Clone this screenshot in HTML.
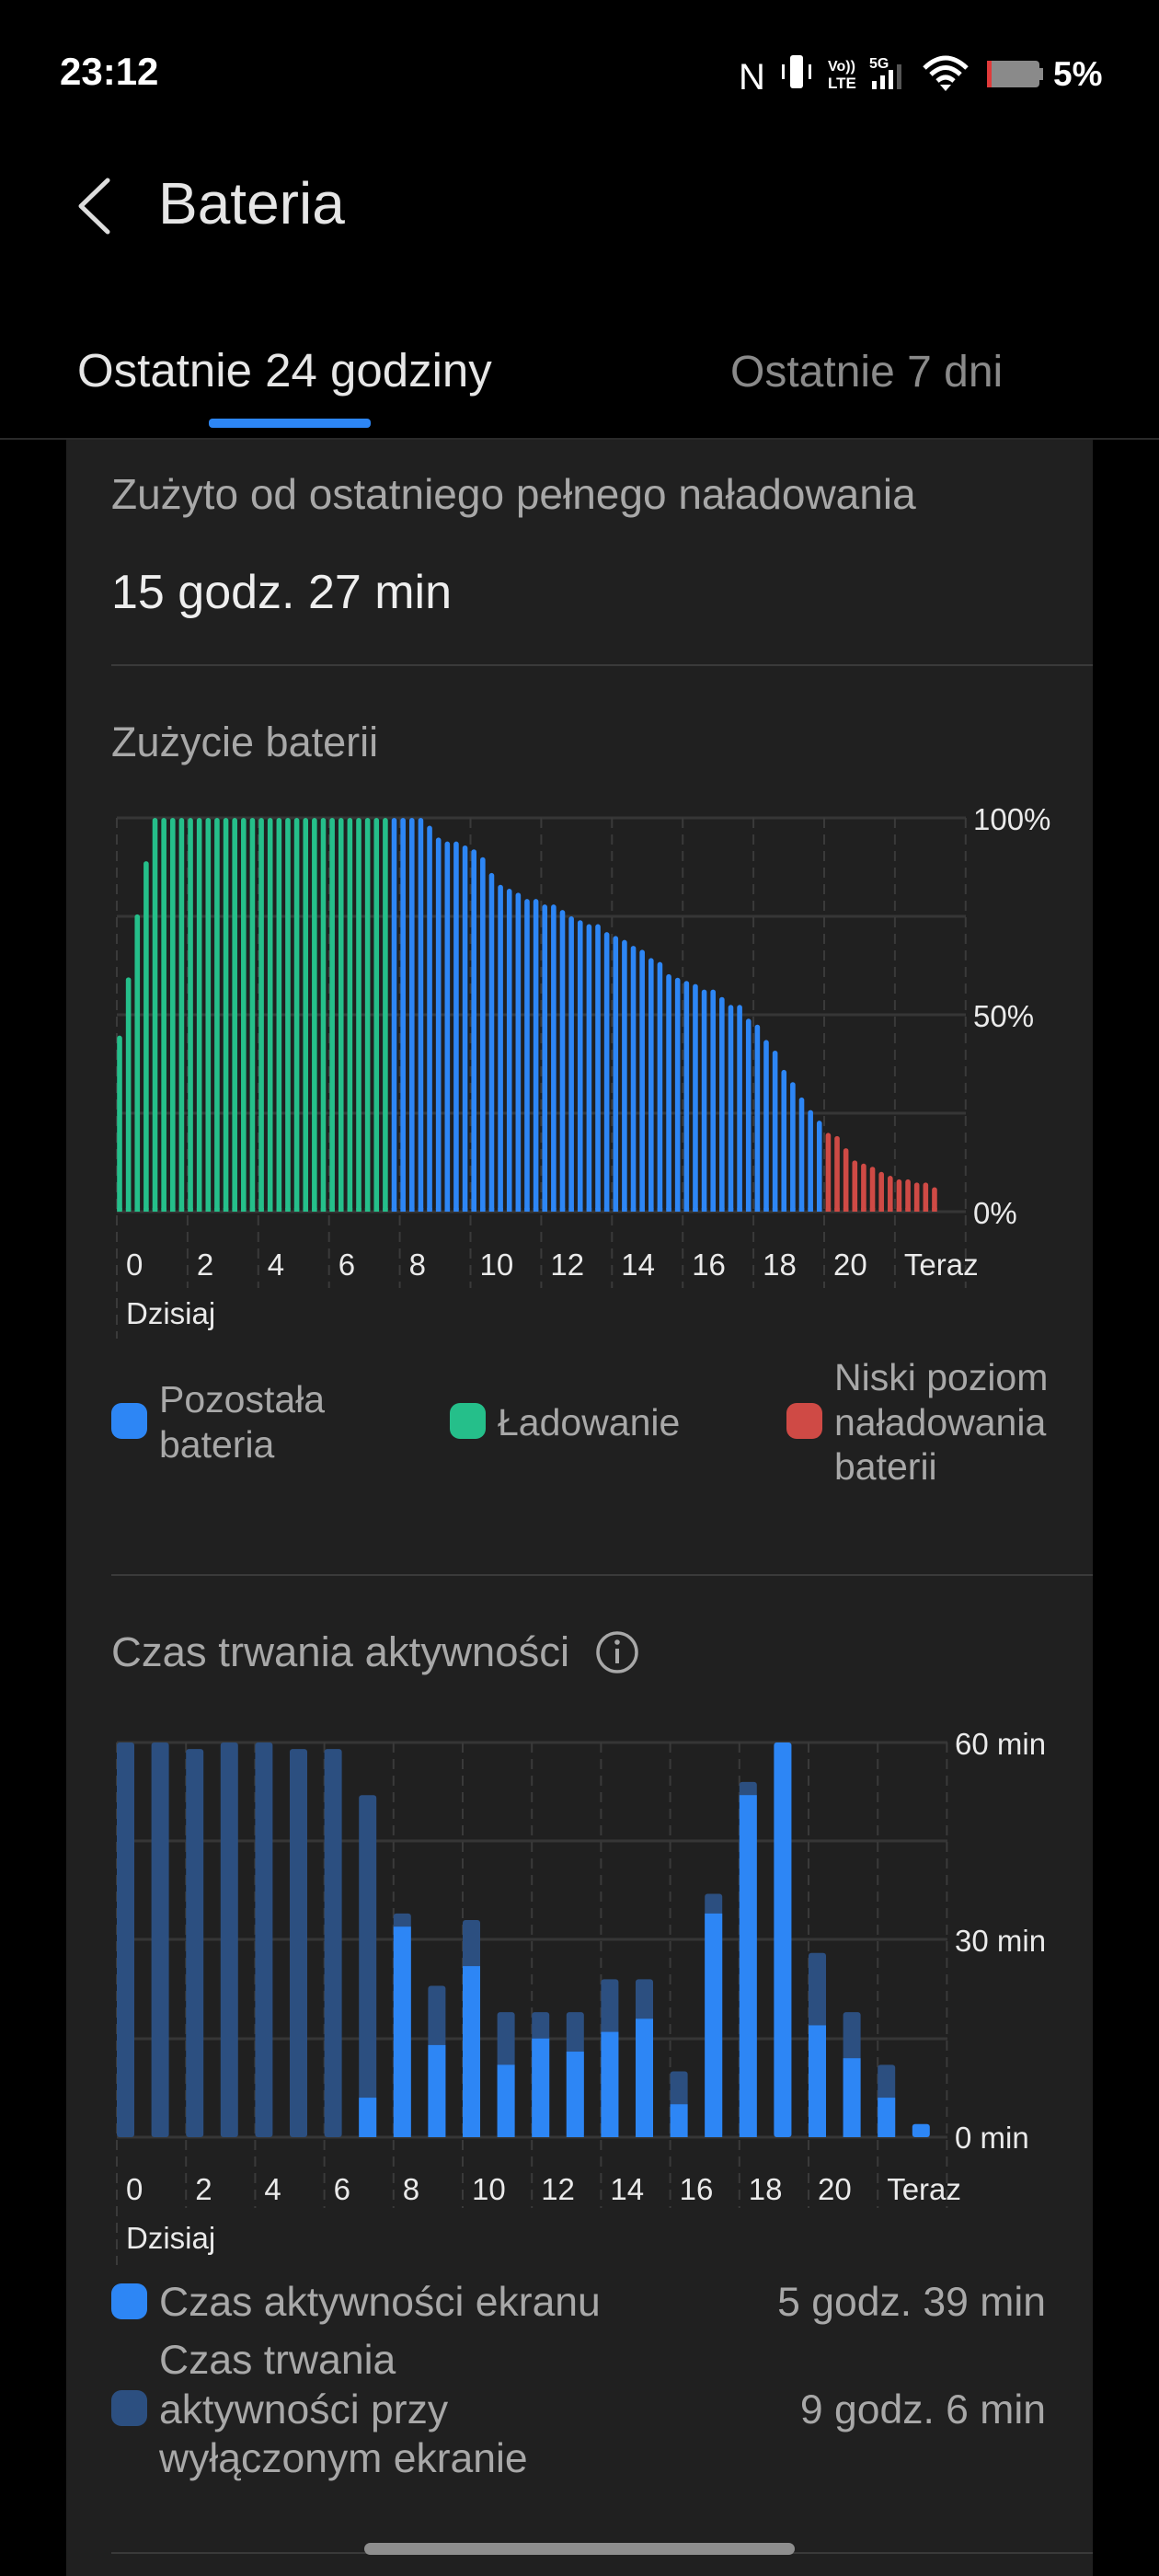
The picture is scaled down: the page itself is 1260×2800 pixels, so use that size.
<!DOCTYPE html>
<html><head><meta charset="utf-8">
<style>
html,body{margin:0;padding:0;background:#000;width:1260px;height:2800px;overflow:hidden}
svg{display:block}
text{font-family:"Liberation Sans",sans-serif}
</style></head>
<body>
<svg id="s" width="1260" height="2800" viewBox="0 0 1260 2800" xmlns="http://www.w3.org/2000/svg">
<rect width="1260" height="2800" fill="#000"/>
<!-- status bar -->
<text x="65" y="92" font-size="42" font-weight="bold" fill="#fff">23:12</text>
<text x="803" y="97" font-size="40" fill="#fff">N</text>
<rect x="859" y="60" width="14" height="36" rx="3" fill="#fff"/>
<rect x="850" y="70" width="3" height="16" fill="#fff"/><rect x="879" y="70" width="3" height="16" fill="#fff"/>
<text x="900" y="77" font-size="16" font-weight="bold" fill="#fff">Vo))</text>
<text x="900" y="96" font-size="17" font-weight="bold" fill="#fff">LTE</text>
<text x="945" y="74" font-size="16" font-weight="bold" fill="#fff">5G</text>
<rect x="948" y="88" width="5" height="9" fill="#fff"/><rect x="957" y="82" width="5" height="15" fill="#fff"/><rect x="966" y="76" width="5" height="21" fill="#fff"/><rect x="975" y="70" width="5" height="27" fill="#555"/>
<path d="M1005 74 Q1028 52 1051 74 M1012 81 Q1028 66 1044 81 M1019 88 Q1028 80 1037 88" stroke="#fff" stroke-width="5" fill="none"/>
<path d="M1022 92 L1034 92 L1028 99 Z" fill="#fff"/>
<rect x="1073" y="66" width="57" height="29" rx="4" fill="#8a8a8a"/>
<rect x="1073" y="66" width="5" height="29" fill="#e03a3a"/>
<rect x="1130" y="74" width="4" height="13" fill="#8a8a8a"/>
<text x="1145" y="93" font-size="37" font-weight="bold" fill="#fff">5%</text>
<!-- header -->
<path d="M117 196 L88 224 L117 252" stroke="#ddd" stroke-width="5" fill="none" stroke-linecap="round" stroke-linejoin="round"/>
<text x="172" y="243" font-size="64" fill="#e6e6e6">Bateria</text>
<text x="84" y="420" font-size="51" fill="#e6e6e6">Ostatnie 24 godziny</text>
<text x="794" y="420" font-size="48" fill="#8a8a8a">Ostatnie 7 dni</text>
<rect x="227" y="455" width="176" height="10" rx="4" fill="#2d86f5"/>
<rect x="0" y="476" width="1260" height="2" fill="#2a2a2a"/>
<!-- card -->
<rect x="72" y="478" width="1116" height="2322" fill="#202020"/>
<text x="121" y="553" font-size="46" fill="#a8a8a8">Zużyto od ostatniego pełnego naładowania</text>
<text x="121" y="661" font-size="52" fill="#eeeeee">15 godz. 27 min</text>
<rect x="121" y="722" width="1067" height="2" fill="#3a3a3a"/>
<text x="121" y="822" font-size="45" fill="#a8a8a8">Zużycie baterii</text>
<g id="c1"></g>
<text fill="#eaeaea" font-size="33">
<tspan x="1058" y="902">100%</tspan><tspan x="1058" y="1116">50%</tspan><tspan x="1058" y="1330">0%</tspan>
</text>
<g id="l1" fill="#eaeaea" font-size="33"></g>
<text x="137" y="1439" font-size="33" fill="#eaeaea">Dzisiaj</text>
<!-- legend 1 -->
<rect x="121" y="1525" width="39" height="39" rx="11" fill="#2d86f5"/>
<text font-size="41" fill="#a8a8a8"><tspan x="173" y="1535">Pozostała</tspan><tspan x="173" y="1584">bateria</tspan></text>
<rect x="489" y="1525" width="39" height="39" rx="11" fill="#25bf8a"/>
<text x="541" y="1560" font-size="41" fill="#a8a8a8">Ładowanie</text>
<rect x="855" y="1525" width="39" height="39" rx="11" fill="#cf4a45"/>
<text font-size="41" fill="#a8a8a8"><tspan x="907" y="1511">Niski poziom</tspan><tspan x="907" y="1560">naładowania</tspan><tspan x="907" y="1608">baterii</tspan></text>
<rect x="121" y="1711" width="1067" height="2" fill="#3a3a3a"/>
<text x="121" y="1811" font-size="45.5" fill="#a8a8a8">Czas trwania aktywności</text>
<circle cx="671" cy="1796" r="21" stroke="#a8a8a8" stroke-width="3.5" fill="none"/>
<rect x="669" y="1792" width="4" height="16" fill="#a8a8a8"/><circle cx="671" cy="1785" r="2.8" fill="#a8a8a8"/>
<g id="c2"></g>
<text fill="#eaeaea" font-size="33">
<tspan x="1038" y="1907">60 min</tspan><tspan x="1038" y="2121">30 min</tspan><tspan x="1038" y="2335">0 min</tspan>
</text>
<g id="l2" fill="#eaeaea" font-size="33"></g>
<text x="137" y="2444" font-size="33" fill="#eaeaea">Dzisiaj</text>
<!-- legend 2 -->
<rect x="121" y="2482" width="39" height="39" rx="11" fill="#2d86f5"/>
<text x="173" y="2517" font-size="44.5" fill="#a8a8a8">Czas aktywności ekranu</text>
<text x="1137" y="2517" font-size="44.5" fill="#a8a8a8" text-anchor="end">5 godz. 39 min</text>
<rect x="121" y="2598" width="39" height="39" rx="11" fill="#2c4f80"/>
<text font-size="44.5" fill="#a8a8a8"><tspan x="173" y="2580">Czas trwania</tspan><tspan x="173" y="2634">aktywności przy</tspan><tspan x="173" y="2687">wyłączonym ekranie</tspan></text>
<text x="1137" y="2634" font-size="44.5" fill="#a8a8a8" text-anchor="end">9 godz. 6 min</text>
<rect x="121" y="2774" width="1067" height="2" fill="#3a3a3a"/>
<rect x="396" y="2764" width="468" height="13" rx="6.5" fill="#8e8e8e"/>
</svg>
<script>
var NS="http://www.w3.org/2000/svg";
function el(p,t,a){var e=document.createElementNS(NS,t);for(var k in a)e.setAttribute(k,a[k]);p.appendChild(e);return e;}
var labs=["0","2","4","6","8","10","12","14","16","18","20","Teraz"];
var c1=document.getElementById("c1"),l1=document.getElementById("l1");
[889,996,1103,1210,1317].forEach(function(y){el(c1,"rect",{x:127,y:y-1.5,width:923,height:3,fill:"#363636"});});
for(var i=0;i<=12;i++){var x=127+76.9*i;el(c1,"line",{x1:x,y1:889,x2:x,y2:(i==0?1455:1400),stroke:"#3a3a3a","stroke-width":2,"stroke-dasharray":"11 7"});}
for(var i=0;i<12;i++){var t=el(l1,"text",{x:127+76.9*i+10,y:1386});t.textContent=labs[i];}
var v=[44.7,59.5,75.5,89];for(var i=0;i<27;i++)v.push(100);
var nG=v.length;
v=v.concat([100,100,100,100,98,95,94,94,93,92,90,86,83,82,81,79.4,79.4,78,78,76.6,75,74,73,73,71,70,69,67.5,66.5,64.4,63.4,60.3,59.4,58.6,57.8,56.4,56.4,54.5,52.5,52.5,49,47.5,43.6,40.9,36,32.9,29,25.8,23.1]);
var nB=v.length;
v=v.concat([20,19.2,16.1,13,12.2,11.4,10.1,9.1,8.2,8.2,7.4,7.4,6.2]);
for(var i=0;i<v.length;i++){var cx=130+9.63*i,h=4.28*v[i];var col=i<nG?"#25bf8a":(i<nB?"#2d86f5":"#cf4a45");
el(c1,"rect",{x:cx-2.8,y:1317-h,width:5.6,height:h,rx:2.8,fill:col});el(c1,"rect",{x:cx-2.8,y:1317-Math.min(h,4),width:5.6,height:Math.min(h,4),fill:col});}
var c2=document.getElementById("c2"),l2=document.getElementById("l2");
[1894,2001,2108,2216,2323].forEach(function(y){el(c2,"rect",{x:127,y:y-1.5,width:903,height:3,fill:"#363636"});});
for(var i=0;i<=12;i++){var x=127+75.2*i;el(c2,"line",{x1:x,y1:1894,x2:x,y2:(i==0?2462:2400),stroke:"#3a3a3a","stroke-width":2,"stroke-dasharray":"11 7"});}
for(var i=0;i<12;i++){var t=el(l2,"text",{x:127+75.2*i+10,y:2391});t.textContent=labs[i];}
var d=[60,60,59,60,60,59,59,52,34,23,33,19,19,19,24,24,10,37,54,60,28,19,11,0];
var b=[0,0,0,0,0,0,0,6,32,14,26,11,15,13,16,18,5,34,52,60,17,12,6,2];
for(var i=0;i<24;i++){var cx=136.5+37.6*i;
if(d[i]>0){var h=7.15*d[i];el(c2,"rect",{x:cx-9.5,y:2323-h,width:19,height:h,rx:3,fill:"#2c4f80"});}
if(b[i]>0){var h=7.15*b[i];el(c2,"rect",{x:cx-9.5,y:2323-h,width:19,height:h,rx:(d[i]>b[i]?0:3),fill:"#2d86f5"});}}
</script>
</body></html>
